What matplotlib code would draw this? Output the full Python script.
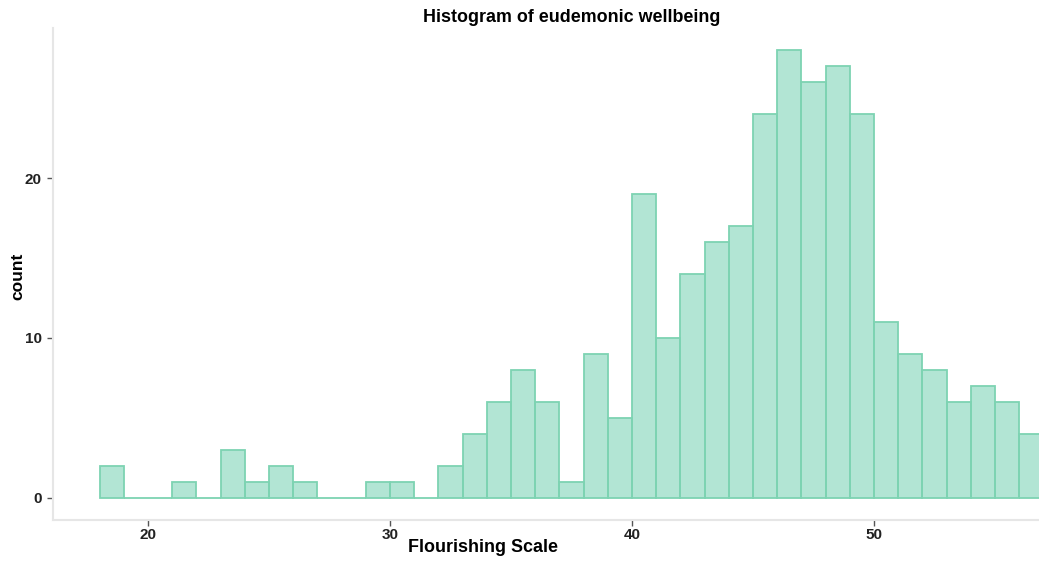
import numpy as np
import matplotlib.pyplot as plt

# Histogram bins (width 1) and counts for the flourishing scale
bin_left = list(range(18, 57))
counts = [2, 0, 0, 1, 0, 3, 1, 2, 1, 0, 0, 1, 1, 0,
          2, 4, 6, 8, 6, 1, 9, 5, 19, 10, 14, 16, 17,
          24, 28, 26, 27, 24, 11, 9, 8, 6, 7, 6, 4]
x_ticks = [20, 30, 40, 50]
y_ticks = [0, 10, 20]

plt.rcParams['font.family'] = ['Liberation Sans', 'DejaVu Sans']

fig = plt.figure(figsize=(10.39, 5.63), dpi=100)
ax = fig.add_axes([53 / 1039, 1 - 520 / 563, 1 - 53 / 1039, (520 - 28) / 563])

ax.bar(bin_left, counts, width=1, align='edge',
       color='#66CDAA', alpha=0.5, edgecolor='none', zorder=2)
ax.bar(bin_left, counts, width=1, align='edge',
       facecolor='none', edgecolor='#7dd3b2', linewidth=1.3, zorder=3)

ax.set_xlim(16.07, 56.82)
ax.set_ylim(-1.4, 29.4)
ax.set_xticks(x_ticks)
ax.set_yticks(y_ticks)
ax.tick_params(axis='both', colors='#555555', length=4, width=1,
               labelsize=11, labelcolor='#222222')
ax.tick_params(axis='x', pad=2)
ax.tick_params(axis='y', pad=4)
for lbl in ax.get_xticklabels() + ax.get_yticklabels():
    lbl.set_fontweight('bold')

for side in ['top', 'right']:
    ax.spines[side].set_visible(False)
for side in ['left', 'bottom']:
    ax.spines[side].set_color('#e6e6e6')
    ax.spines[side].set_linewidth(1.5)

# axis titles and main title placed in figure pixels
fig.text(483 / 1039, 1 - 552 / 563, 'Flourishing Scale',
         ha='center', va='baseline', fontsize=12.9, fontweight='bold')
fig.text(17.5 / 1039, 1 - 276 / 563, 'count', rotation=90,
         ha='center', va='center', fontsize=12.5, fontweight='bold')
fig.text(572 / 1039, 1 - 18 / 563, 'Histogram of eudemonic wellbeing',
         ha='center', va='center', fontsize=12.9, fontweight='bold')

fig.savefig('out.png', dpi=100)
